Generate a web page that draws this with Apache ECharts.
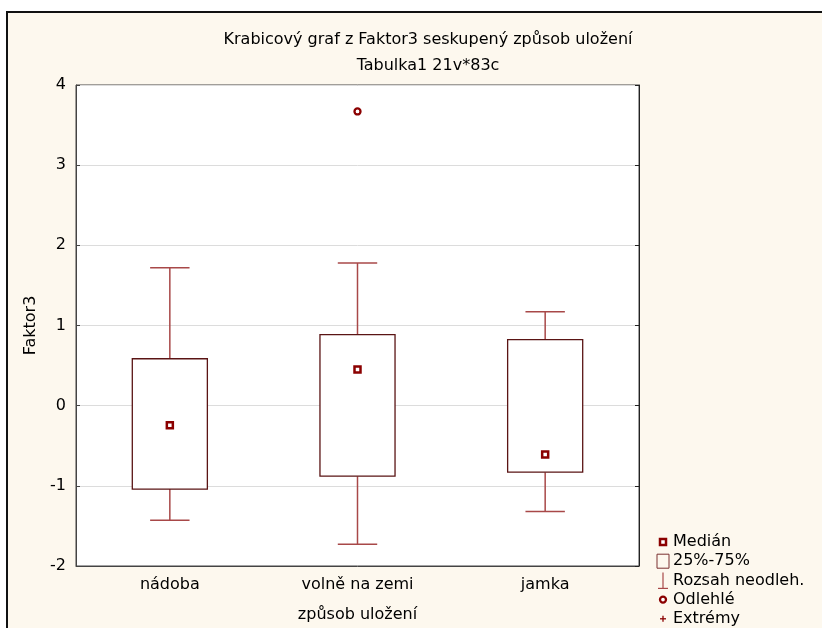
<!DOCTYPE html>
<html>
<head>
<meta charset="utf-8">
<script src="https://cdn.jsdelivr.net/npm/echarts@6/dist/echarts.min.js"></script>
<style>html,body{margin:0;padding:0;background:#fff}#c{width:822px;height:628px}</style>
</head>
<body>
<div id="c"></div>
<script>
// ---- data ----
const categories = ['nádoba', 'volně na zemi', 'jamka'];
const whiskerLow = [-1.43, -1.73, -1.32];
const q1 = [-1.04, -0.88, -0.83];
const q3 = [0.585, 0.885, 0.825];
const whiskerHigh = [1.72, 1.78, 1.17];
const medians = [-0.245, 0.45, -0.61];
const outliers = [[1, 3.67]];
const extremes = [];
const yTicks = [-2, -1, 0, 1, 2, 3, 4];
const legendLabels = ['Medián', '25%-75%', 'Rozsah neodleh.', 'Odlehlé', 'Extrémy'];

const FONT = '"DejaVu Sans", "Liberation Sans", Arial, sans-serif';
const boxData = categories.map((c, i) => [i, whiskerLow[i], q1[i], q3[i], whiskerHigh[i]]);
const medianData = medians.map((m, i) => [i, m]);

const chart = echarts.init(document.getElementById('c'));

const lgX = 657, lgY0 = 542, lgStep = 19.2, lgTextX = 673;
const lgIcons = [
  {type: 'rect', shape: {x: -3, y: -3, width: 6, height: 6}, style: {fill: '#fff', stroke: '#8b0000', lineWidth: 2.5}},
  {type: 'rect', shape: {x: -6, y: -7, width: 12, height: 14}, style: {fill: 'none', stroke: '#7a3030', lineWidth: 1}},
  {type: 'group', children: [
    {type: 'line', shape: {x1: 0, y1: -8, x2: 0, y2: 8}, style: {stroke: '#a84848', lineWidth: 1.2}},
    {type: 'line', shape: {x1: -5, y1: 8, x2: 5, y2: 8}, style: {stroke: '#a84848', lineWidth: 1.2}}
  ]},
  {type: 'circle', shape: {cx: 0, cy: 0, r: 3}, style: {fill: '#fff', stroke: '#8b0000', lineWidth: 2.3}},
  {type: 'group', children: [
    {type: 'line', shape: {x1: -3, y1: 0, x2: 3, y2: 0}, style: {stroke: '#8b0000', lineWidth: 1.3}},
    {type: 'line', shape: {x1: 0, y1: -3, x2: 0, y2: 3}, style: {stroke: '#8b0000', lineWidth: 1.3}}
  ]}
];
const legendGraphics = [];
legendLabels.forEach((lab, i) => {
  const y = lgY0 + i * lgStep;
  legendGraphics.push(Object.assign({}, lgIcons[i], {x: lgX + 6, y: y, z: 10}));
  legendGraphics.push({type: 'text', x: lgTextX, y: y, z: 10,
    style: {text: lab, font: '16px ' + FONT, fill: '#000', textVerticalAlign: 'middle', verticalAlign: 'middle'}});
});

const option = {
  animation: false,
  backgroundColor: '#ffffff',
  title: {
    text: 'Krabicový graf z Faktor3 seskupený způsob uložení\nTabulka1 21v*83c',
    left: 423, top: 22, textAlign: 'center',
    textStyle: {fontFamily: FONT, fontSize: 16, fontWeight: 'normal', color: '#000', lineHeight: 26}
  },
  graphic: [
    {type: 'rect', z: -10, shape: {x: 7, y: 12, width: 830, height: 640},
     style: {fill: '#fdf8ee', stroke: '#111', lineWidth: 2}}
  ].concat(legendGraphics),
  grid: {left: 76, right: 183, top: 85, bottom: 61, show: true, backgroundColor: '#fff', borderColor: '#444', borderWidth: 1},
  xAxis: {
    type: 'category', data: categories, boundaryGap: true,
    name: 'způsob uložení', nameLocation: 'middle', nameGap: 41,
    nameTextStyle: {fontFamily: FONT, fontSize: 16, color: '#000'},
    axisLine: {onZero: false, lineStyle: {color: '#444'}},
    axisTick: {inside: true, length: 4, alignWithLabel: true, lineStyle: {color: '#444'}},
    axisLabel: {fontFamily: FONT, fontSize: 16, color: '#000', margin: 11},
    splitLine: {show: false}
  },
  yAxis: [{
    type: 'value', min: -2, max: 4, interval: 1,
    name: 'Faktor3', nameLocation: 'middle', nameGap: 37, nameRotate: 90,
    nameTextStyle: {fontFamily: FONT, fontSize: 16, color: '#000'},
    axisLine: {show: true, lineStyle: {color: '#444'}},
    axisTick: {show: true, inside: true, length: 4, lineStyle: {color: '#444'}},
    axisLabel: {fontFamily: FONT, fontSize: 16, color: '#000', margin: 10,
      formatter: v => yTicks.includes(v) ? String(v) : ''},
    splitLine: {show: true, lineStyle: {color: '#dcdcdc', width: 1}}
  }, {
    type: 'value', min: -2, max: 4, interval: 1, position: 'right',
    axisLine: {show: true, lineStyle: {color: '#222'}},
    axisTick: {show: true, inside: true, length: 4, lineStyle: {color: '#222'}},
    axisLabel: {show: false}, splitLine: {show: false}
  }],
  series: [{
    name: '25%-75%', type: 'custom', data: boxData, z: 2,
    encode: {x: 0, y: [1, 2, 3, 4]},
    renderItem: function (params, api) {
      const i = api.value(0);
      const cx = api.coord([i, 0])[0];
      const band = api.size([1, 0])[0];
      const bw = band * 0.4, cw = band * 0.21;
      const yLow = api.coord([i, api.value(1)])[1];
      const yQ1 = api.coord([i, api.value(2)])[1];
      const yQ3 = api.coord([i, api.value(3)])[1];
      const yHigh = api.coord([i, api.value(4)])[1];
      const ws = {stroke: '#a84848', lineWidth: 1.5};
      return {type: 'group', children: [
        {type: 'line', shape: {x1: cx, y1: yHigh, x2: cx, y2: yQ3}, style: ws},
        {type: 'line', shape: {x1: cx - cw / 2, y1: yHigh, x2: cx + cw / 2, y2: yHigh}, style: ws},
        {type: 'line', shape: {x1: cx, y1: yQ1, x2: cx, y2: yLow}, style: ws},
        {type: 'line', shape: {x1: cx - cw / 2, y1: yLow, x2: cx + cw / 2, y2: yLow}, style: ws},
        {type: 'rect', shape: {x: cx - bw / 2, y: yQ3, width: bw, height: yQ1 - yQ3},
         style: {fill: '#fff', stroke: '#5a1414', lineWidth: 1.3}}
      ]};
    }
  }, {
    name: 'Medián', type: 'scatter', data: medianData, z: 5,
    symbol: 'rect', symbolSize: 6,
    itemStyle: {color: '#fff', borderColor: '#8b0000', borderWidth: 2.5, opacity: 1}
  }, {
    name: 'Odlehlé', type: 'scatter', data: outliers, z: 5,
    symbol: 'circle', symbolSize: 6,
    itemStyle: {color: '#fff', borderColor: '#8b0000', borderWidth: 2.3, opacity: 1}
  }, {
    name: 'Extrémy', type: 'scatter', data: extremes, z: 5,
    symbol: 'path://M0,3L6,3M3,0L3,6', symbolSize: 6,
    itemStyle: {color: '#8b0000'}
  }]
};
chart.setOption(option);
</script>
</body>
</html>
